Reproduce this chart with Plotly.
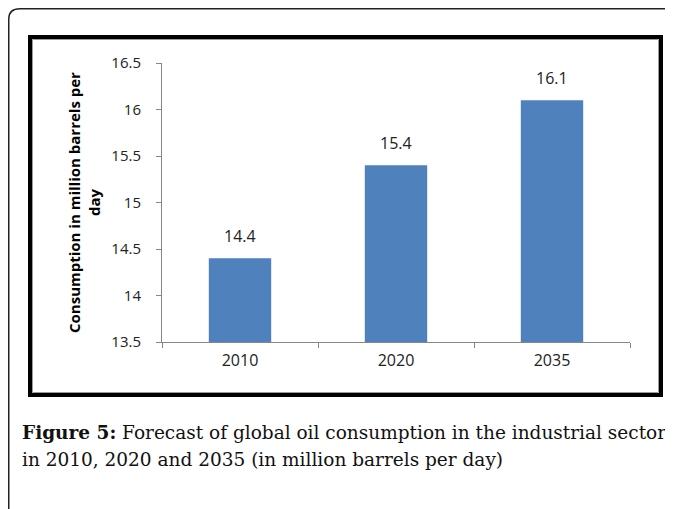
import plotly.graph_objects as go

categories = ["2010", "2020", "2035"]
values = [14.4, 15.4, 16.1]
y_ticks = [13.5, 14, 14.5, 15, 15.5, 16, 16.5]
y_ticktext = ["13.5", "14", "14.5", "15", "15.5", "16", "16.5"]

# The page body keeps its default 8px margin, so the figure is 8px smaller
# and design coordinates (page pixels) are shifted by that offset.
OFF = 8
W, H = 673 - OFF, 509 - OFF
def px(x):
    return (x - OFF) / W
def py(y):
    return 1 - (y - OFF) / H

fig = go.Figure()
fig.add_trace(go.Bar(
    x=categories, y=values,
    marker=dict(color="#4F81BD", line=dict(width=0)),
    width=0.4,
    hoverinfo="skip",
))

annotations = []
for i, v in enumerate(values):
    annotations.append(dict(
        x=i, y=v, xref="x", yref="y", text=f"{v}", showarrow=False,
        yanchor="bottom", yshift=9,
        font=dict(family="Open Sans", size=16, color="#222222"),
    ))

annotations.append(dict(
    x=px(84), y=py(203), xref="paper", yref="paper",
    text="Consumption in million barrels per<br>day", showarrow=False,
    textangle=-90, xanchor="center", yanchor="middle",
    font=dict(family="Open Sans", size=15, color="#000000", weight="bold"),
))

annotations.append(dict(
    x=px(20), y=py(432), xref="paper", yref="paper",
    text="<b>Figure 5:</b> Forecast of global oil consumption in the industrial sector",
    showarrow=False, xanchor="left", yanchor="middle",
    font=dict(family="DejaVu Serif", size=18.5, color="#111111"),
))
annotations.append(dict(
    x=px(20), y=py(459), xref="paper", yref="paper",
    text="in 2010, 2020 and 2035 (in million barrels per day)",
    showarrow=False, xanchor="left", yanchor="middle",
    font=dict(family="DejaVu Serif", size=18.5, color="#111111"),
))

shapes = [
    dict(type="path", xref="paper", yref="paper",
         path=(f"M {px(8.75)},{py(509)} L {px(8.75)},{py(19)} "
               f"Q {px(8.75)},{py(8.75)} {px(20)},{py(8.75)} L {px(673)},{py(8.75)}"),
         line=dict(color="#222222", width=1.5)),
    dict(type="rect", xref="paper", yref="paper",
         x0=px(30), x1=px(661), y0=py(395), y1=py(37),
         line=dict(color="#000000", width=4)),
    dict(type="rect", xref="paper", yref="paper",
         x0=px(32.5), x1=px(658.5), y0=py(392.5), y1=py(39.5),
         line=dict(color="#9a9a9a", width=1)),
]

fig.update_layout(
    width=W, height=H,
    margin=dict(l=0, r=0, t=0, b=0, pad=0, autoexpand=False),
    paper_bgcolor="white", plot_bgcolor="white",
    showlegend=False,
    annotations=annotations,
    shapes=shapes,
    xaxis=dict(
        type="category",
        range=[-0.5, 2.5],
        domain=[px(162), px(630)],
        showline=True, linecolor="#868686", linewidth=1,
        ticks="outside", tickson="boundaries", ticklen=5, tickcolor="#868686",
        showgrid=False, zeroline=False, automargin=False,
        tickfont=dict(family="Open Sans", size=16, color="#222222"),
        ticklabelstandoff=4, tickangle=0,
    ),
    yaxis=dict(
        domain=[py(342), py(63)],
        range=[13.5, 16.5],
        tickvals=y_ticks, ticktext=y_ticktext,
        showline=True, linecolor="#868686", linewidth=1,
        ticks="outside", ticklen=5, tickcolor="#868686",
        showgrid=False, zeroline=False, automargin=False,
        tickfont=dict(family="Open Sans", size=15, color="#222222"),
        ticklabelstandoff=12,
    ),
)

fig.write_html("out.html")
